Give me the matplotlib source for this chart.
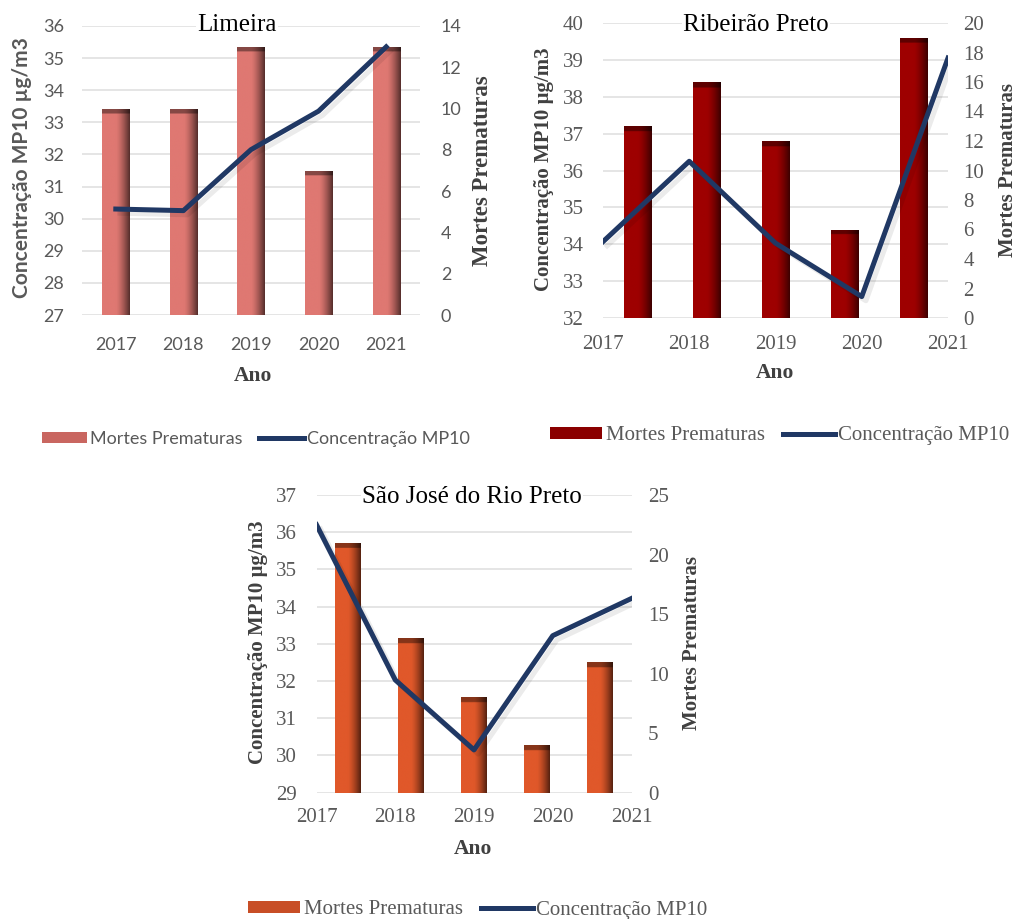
import numpy as np
import matplotlib
matplotlib.use("Agg")
from matplotlib import pyplot as plt
from matplotlib import colors as mcolors
from matplotlib import patheffects as pe
from matplotlib.lines import Line2D
from matplotlib.patches import Patch

W_PX, H_PX = 1016, 919

years = [2017, 2018, 2019, 2020, 2021]

limeira_mortes = [10, 10, 13, 7, 13]
limeira_mp10 = [30.3, 30.25, 32.15, 33.35, 35.35]

ribeirao_mortes = [13, 16, 12, 6, 19]
ribeirao_mp10 = [34.07, 36.25, 34.03, 32.58, 39.05]

sjrp_mortes = [21, 13, 8, 4, 11]
sjrp_mp10 = [36.2, 32.03, 30.15, 33.22, 34.22]

SERIF = "Liberation Serif"
SANS = "Lato"
TICK_GREY = "#595959"
LABEL_GREY = "#404040"
GRID_GREY = "#DEDEDE"
LINE_BLUE = "#203864"


def px_rect(x0, y0, x1, y1):
    # pixel box (top-left origin) -> figure fraction rect
    return [x0 / W_PX, 1 - y1 / H_PX, (x1 - x0) / W_PX, (y1 - y0) / H_PX]


def px(x, y):
    return x / W_PX, 1 - y / H_PX


def shade_bars(ax, bars, color, cap_frac=0.017):
    # darken the right side and the top edge of each bar, Excel style
    rgb = np.array(mcolors.to_rgb(color))
    xs = np.linspace(0, 1, 64)
    hfac = np.where(xs < 0.5, 1.0, 1 - 0.62 * ((xs - 0.5) / 0.5) ** 1.4)
    y0_lim, y1_lim = ax.get_ylim()
    cap = cap_frac * (y1_lim - y0_lim)
    for bar in bars:
        x0, y0 = bar.get_x(), bar.get_y()
        w, h = bar.get_width(), bar.get_height()
        ys = np.linspace(0, h, 300)
        vfac = np.where(ys > h - cap, 0.6, 1.0)
        img = rgb[None, None, :] * hfac[None, :, None] * vfac[:, None, None]
        im = ax.imshow(img, extent=(x0, x0 + w, y0, y0 + h), origin="lower",
                       aspect="auto", interpolation="bilinear", zorder=2)
        im.set_clip_path(bar)


def panel(fig, rect, mortes, mp10, bar_color, left_ticks, right_ticks,
          between, tick_family, pads):
    ax = fig.add_axes(rect)
    ax.set_ylim(left_ticks[0], left_ticks[-1])
    ax.set_yticks(left_ticks)
    ax.grid(axis="y", color=GRID_GREY, lw=1.1)
    ax.set_axisbelow(True)

    if between:
        xlim = (years[0], years[-1])
        step = (years[-1] - years[0]) / len(years)
        bar_x = [years[0] + (i + 0.5) * step for i in range(len(years))]
    else:
        xlim = (years[0] - 0.5, years[-1] + 0.5)
        step = 1.0
        bar_x = years

    axb = ax.twinx()
    bars = axb.bar(bar_x, mortes, width=0.4 * step, color=bar_color, zorder=2)
    axb.set_ylim(right_ticks[0], right_ticks[-1])
    axb.set_yticks(right_ticks)
    shade_bars(axb, bars, bar_color)
    axb.set_ylim(right_ticks[0], right_ticks[-1])

    axl = ax.twinx()
    axl.set_ylim(left_ticks[0], left_ticks[-1])
    axl.yaxis.set_visible(False)
    axl.plot(years, mp10, color=LINE_BLUE, lw=3.6, solid_joinstyle="round",
             path_effects=[pe.SimpleLineShadow(offset=(3, -3), alpha=0.08, rho=0.4),
                           pe.Normal()])

    ax.set_xlim(xlim)
    ax.set_xticks(years)

    for a in (ax, axb, axl):
        for s in a.spines.values():
            s.set_visible(False)

    pad_left, pad_right, pad_x = pads
    ax.tick_params(axis="y", length=0, pad=pad_left, labelcolor=TICK_GREY)
    ax.tick_params(axis="x", length=0, pad=pad_x, labelcolor=TICK_GREY)
    axb.tick_params(axis="y", length=0, pad=pad_right, labelcolor=TICK_GREY)
    for lab in ax.get_xticklabels() + ax.get_yticklabels() + axb.get_yticklabels():
        lab.set_family(tick_family)
        lab.set_fontsize(13 if tick_family == SANS else 15)
    return ax


fig = plt.figure(figsize=(W_PX / 100, H_PX / 100), dpi=100)

# Limeira
panel(fig, px_rect(82, 26, 420, 315), limeira_mortes, limeira_mp10, "#DF7872",
      list(range(27, 37)), list(range(0, 15, 2)), False, SANS, (13, 15, 16))
fig.text(*px(237, 25), "Limeira", family=SERIF, fontsize=18, ha="center", va="center",
         bbox=dict(facecolor="white", edgecolor="none", pad=1))
fig.text(*px(22, 168), "Concentração MP10 µg/m3", family=SANS, weight="bold",
         fontsize=15, color=TICK_GREY, rotation=90, ha="center", va="center")
fig.text(*px(482, 171), "Mortes Prematuras", family=SERIF, weight="bold",
         fontsize=16.5, color=LABEL_GREY, rotation=90, ha="center", va="center")
fig.text(*px(253, 376), "Ano", family=SERIF, weight="bold", fontsize=15.5,
         color=LABEL_GREY, ha="center", va="center")

# Ribeirão Preto
panel(fig, px_rect(603, 23, 948, 318), ribeirao_mortes, ribeirao_mp10, "#9E0000",
      list(range(32, 41)), list(range(0, 21, 2)), True, SERIF, (14, 11, 12))
fig.text(*px(756, 25), "Ribeirão Preto", family=SERIF, fontsize=18, ha="center",
         va="center", bbox=dict(facecolor="white", edgecolor="none", pad=1))
fig.text(*px(544, 169), "Concentração MP10 µg/m3", family=SERIF, weight="bold",
         fontsize=15, color=LABEL_GREY, rotation=90, ha="center", va="center")
fig.text(*px(1008, 170), "Mortes Prematuras", family=SERIF, weight="bold",
         fontsize=15, color=LABEL_GREY, rotation=90, ha="center", va="center")
fig.text(*px(775, 373), "Ano", family=SERIF, weight="bold", fontsize=15.5,
         color=LABEL_GREY, ha="center", va="center")

# São José do Rio Preto
panel(fig, px_rect(316.5, 495, 631.5, 792.7), sjrp_mortes, sjrp_mp10, "#E0582A",
      list(range(29, 38)), list(range(0, 26, 5)), True, SERIF, (14, 12, 11))
fig.text(*px(472, 497), "São José do Rio Preto", family=SERIF, fontsize=18,
         ha="center", va="center", bbox=dict(facecolor="white", edgecolor="none", pad=1))
fig.text(*px(258, 642), "Concentração MP10 µg/m3", family=SERIF, weight="bold",
         fontsize=15, color=LABEL_GREY, rotation=90, ha="center", va="center")
fig.text(*px(692, 643), "Mortes Prematuras", family=SERIF, weight="bold",
         fontsize=15, color=LABEL_GREY, rotation=90, ha="center", va="center")
fig.text(*px(473, 849), "Ano", family=SERIF, weight="bold", fontsize=15.5,
         color=LABEL_GREY, ha="center", va="center")


def add_legend(center, bar_color, family, size):
    handles = [Patch(facecolor=bar_color, edgecolor="none"),
               Line2D([], [], color=LINE_BLUE, lw=3.6)]
    fig.legend(handles, ["Mortes Prematuras", "Concentração MP10"], loc="center",
               bbox_to_anchor=px(*center), ncol=2, frameon=False,
               prop=dict(family=family, size=size), labelcolor=TICK_GREY,
               handlelength=2.5, handleheight=0.5, handletextpad=0.15,
               columnspacing=0.9, borderpad=0)


add_legend((256, 439), "#C96660", SANS, 13)
add_legend((780, 436), "#8A0000", SERIF, 15)
add_legend((478, 910), "#C84E26", SERIF, 15)

fig.savefig("out.png", dpi=100)
